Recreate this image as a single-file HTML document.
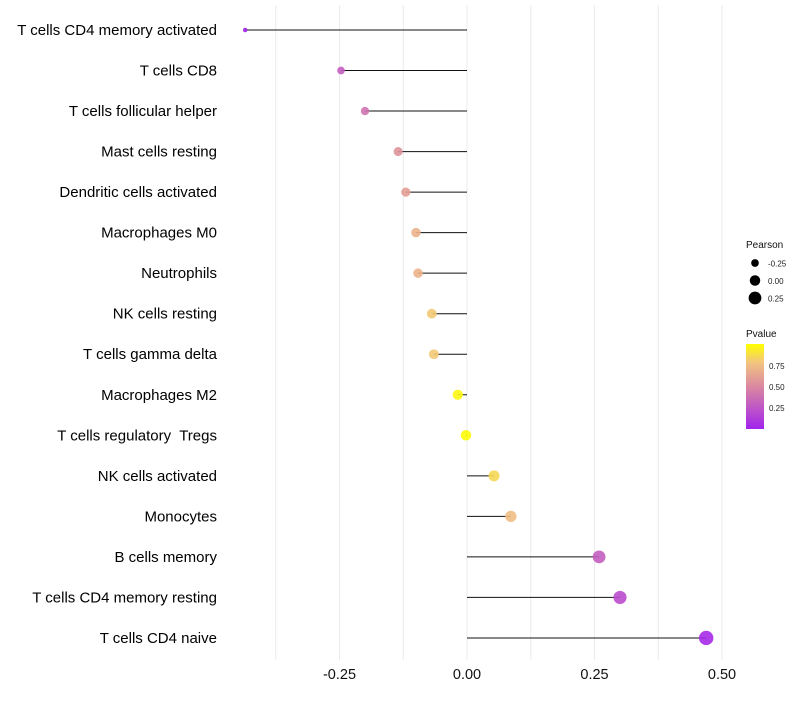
<!DOCTYPE html>
<html><head><meta charset="utf-8"><style>
body{margin:0;background:#fff;font-family:"Liberation Sans",sans-serif}
</style></head><body>
<svg id="chart" width="800" height="700" xmlns="http://www.w3.org/2000/svg"></svg>
<script>
const categories=["T cells CD4 memory activated","T cells CD8","T cells follicular helper","Mast cells resting","Dendritic cells activated","Macrophages M0","Neutrophils","NK cells resting","T cells gamma delta","Macrophages M2","T cells regulatory  Tregs","NK cells activated","Monocytes","B cells memory","T cells CD4 memory resting","T cells CD4 naive"];
const pearson=[-0.435,-0.247,-0.2,-0.135,-0.12,-0.1,-0.096,-0.069,-0.065,-0.018,-0.002,0.053,0.086,0.259,0.3,0.469];
const pvalue=[0.02,0.3,0.4,0.55,0.6,0.7,0.7,0.8,0.8,0.97,0.99,0.85,0.75,0.3,0.22,0.05];
const xTicks=[-0.25,0,0.25,0.5];
const xTickLabels=["-0.25","0.00","0.25","0.50"];
const sizeLegend=[-0.25,0,0.25];
const colorLegend=[0.25,0.5,0.75];

const svg=document.getElementById('chart');
const NS="http://www.w3.org/2000/svg";
const x=v=>467+v*510;
const y=i=>30+i*40.53;
const r=v=>Math.sqrt(Math.max(1,5+(v+0.435)*52));
function lerp(a,b,t){return a.map((c,k)=>Math.round(c+(b[k]-c)*t));}
const stops=[[0,[160,32,240]],[0.5,[218,136,160]],[0.78,[242,196,128]],[1,[255,255,0]]];
function col(p){for(let k=1;k<stops.length;k++){if(p<=stops[k][0]){const t=(p-stops[k-1][0])/(stops[k][0]-stops[k-1][0]);const c=lerp(stops[k-1][1],stops[k][1],t);return `rgb(${c})`;}}return 'rgb(255,255,0)';}
function el(tag,attrs,name,text){const e=document.createElementNS(NS,tag);for(const k in attrs)e.setAttribute(k,attrs[k]);


if(text!==undefined)e.textContent=text;svg.appendChild(e);return e;}
for(let v=-0.375;v<=0.5001;v+=0.125){el('line',{x1:x(v),x2:x(v),y1:5,y2:660,stroke:'#ebebeb','stroke-width':1},'grid-line');}
xTicks.forEach((v,i)=>{el('text',{x:x(v),y:679,'text-anchor':'middle','font-size':14.5,fill:'#111'},'x-tick-label',xTickLabels[i]);});
categories.forEach((c,i)=>{
 el('text',{x:217,y:y(i)+5,'text-anchor':'end','font-size':15,fill:'#000',style:'white-space:pre'},'y-category-label',c);
 el('line',{x1:x(0),x2:x(pearson[i]),y1:y(i),y2:y(i),stroke:'#111','stroke-width':1},'lollipop-stem');
 el('circle',{cx:x(pearson[i]),cy:y(i),r:r(pearson[i]),fill:col(pvalue[i]),'fill-opacity':0.9},'lollipop-point');
});
el('text',{x:746,y:248,'font-size':10,fill:'#111'},'size-legend-title','Pearson');
sizeLegend.forEach((v,i)=>{const cy=263+i*17.5;
 el('circle',{cx:755,cy:cy,r:r(v),fill:'#000'},'size-legend-key');
 el('text',{x:768,y:cy+3.5,'font-size':8,fill:'#222'},'size-legend-label',v===0?'0.00':v.toFixed(2));});
el('text',{x:746,y:337,'font-size':10,fill:'#111'},'color-legend-title','Pvalue');
const defs=document.createElementNS(NS,'defs');
defs.innerHTML='<linearGradient id="pg" x1="0" y1="1" x2="0" y2="0"><stop offset="0" stop-color="'+col(0.02)+'"/><stop offset="0.5" stop-color="'+col(0.5)+'"/><stop offset="0.78" stop-color="'+col(0.78)+'"/><stop offset="1" stop-color="'+col(1)+'"/></linearGradient>';
svg.appendChild(defs);
el('rect',{x:746,y:344,width:18,height:85,fill:'url(#pg)'},'color-legend-bar');
colorLegend.forEach(v=>{const cy=429-v*84;
 el('text',{x:769,y:cy+3,'font-size':8,fill:'#222'},'color-legend-label',v.toFixed(2));});
</script>
</body></html>
